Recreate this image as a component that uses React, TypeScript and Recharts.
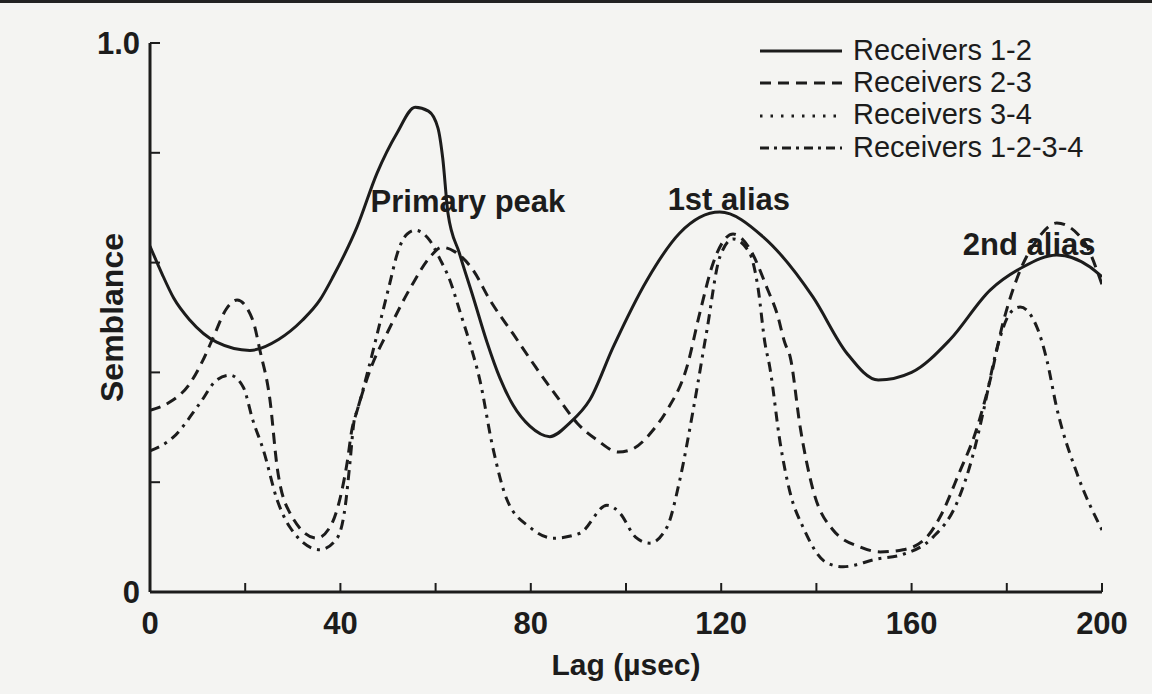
import { LineChart, Line, XAxis, YAxis, ReferenceDot } from "recharts";

// Receivers 1-2 (solid)
const lag12 = [0, 2.5, 5, 8.4, 14, 21, 27, 32, 35.7, 38.5, 43.5, 47.7, 51.9, 55.7, 58.5, 60.5, 61.5, 62.6, 65, 67.9, 70.8, 73.5, 76.3, 79.8, 84, 88.2, 92.4, 97.3, 104.4, 111.3, 119.7, 128.8, 139.3, 146.4, 153, 160, 168, 176.5, 183.4, 190.5, 197.5, 200];
const sem12 = [0.63, 0.58, 0.535, 0.495, 0.455, 0.44, 0.46, 0.495, 0.532, 0.575, 0.665, 0.763, 0.836, 0.883, 0.876, 0.845, 0.79, 0.69, 0.617, 0.537, 0.455, 0.39, 0.34, 0.302, 0.283, 0.308, 0.35, 0.446, 0.568, 0.654, 0.692, 0.647, 0.537, 0.435, 0.386, 0.4, 0.459, 0.55, 0.592, 0.614, 0.592, 0.574];

// Receivers 2-3 (dashed)
const lag23 = [0, 4, 8.4, 11, 13.2, 16, 18.3, 21.6, 23.1, 25.2, 26.7, 29.4, 35, 37.8, 40, 41.4, 42.4, 43.5, 46.5, 50, 55.3, 58.8, 61.3, 64, 67.9, 71.4, 76.3, 81, 86, 89.7, 93.9, 98.4, 101, 105.7, 108.6, 112.8, 115.5, 118.3, 122.5, 126, 129.8, 131.7, 133.4, 134.5, 136.6, 139.3, 143.5, 149.2, 153.4, 158.2, 163.2, 166, 170, 173.6, 176.5, 179.2, 182, 186.3, 190.5, 196, 200];
const sem23 = [0.331, 0.345, 0.38, 0.42, 0.462, 0.515, 0.532, 0.495, 0.44, 0.35, 0.228, 0.144, 0.098, 0.118, 0.173, 0.235, 0.295, 0.33, 0.41, 0.475, 0.563, 0.61, 0.628, 0.62, 0.586, 0.532, 0.47, 0.41, 0.35, 0.308, 0.277, 0.255, 0.259, 0.295, 0.331, 0.41, 0.508, 0.599, 0.652, 0.625, 0.55, 0.508, 0.453, 0.428, 0.3, 0.186, 0.113, 0.082, 0.073, 0.077, 0.1, 0.137, 0.217, 0.295, 0.386, 0.49, 0.568, 0.641, 0.672, 0.641, 0.56];

// Receivers 1-2-3-4 (dash-dot)
const lag1234 = [0, 4.9, 10.5, 14, 16.8, 19.6, 21.6, 23.8, 26.7, 29.4, 35.7, 39.3, 41, 42, 42.9, 43.5, 46, 48.3, 50.4, 51.9, 54, 55.7, 58.8, 61, 63, 65, 67.2, 69.3, 72, 75, 79.8, 84.7, 90.3, 96, 98.7, 102, 105, 108.6, 111.3, 114, 117, 119.7, 122.5, 126, 127.7, 129.2, 130.2, 132.4, 134.5, 137.2, 142.2, 145.6, 152.7, 158, 164.5, 169.5, 173, 175, 178, 180.7, 182.8, 186.3, 188.4, 190.5, 194.7, 200];
const sem1234 = [0.257, 0.282, 0.344, 0.386, 0.395, 0.373, 0.313, 0.259, 0.168, 0.118, 0.077, 0.098, 0.155, 0.235, 0.313, 0.33, 0.41, 0.49, 0.563, 0.615, 0.652, 0.659, 0.64, 0.605, 0.568, 0.514, 0.453, 0.386, 0.264, 0.168, 0.118, 0.098, 0.107, 0.158, 0.144, 0.1, 0.089, 0.118, 0.204, 0.326, 0.477, 0.61, 0.643, 0.617, 0.556, 0.453, 0.41, 0.271, 0.18, 0.118, 0.053, 0.046, 0.06, 0.068, 0.1, 0.162, 0.253, 0.326, 0.446, 0.508, 0.519, 0.483, 0.423, 0.335, 0.217, 0.113];

const xTicks = [0, 20, 40, 60, 80, 100, 120, 140, 160, 180, 200];
const yTicks = [0, 0.2, 0.4, 0.6, 0.8, 1.0];

const legendItems = [
  { label: "Receivers 1-2", dash: "" },
  { label: "Receivers 2-3", dash: "11 7" },
  { label: "Receivers 3-4", dash: "2.5 8" },
  { label: "Receivers 1-2-3-4", dash: "9 5 3 5" },
];

const annotations = [
  { text: "Primary peak", lag: 66.8, value: 0.692 },
  { text: "1st alias", lag: 121.6, value: 0.696 },
  { text: "2nd alias", lag: 184.7, value: 0.614 },
];

const toRows = (lags: number[], vals: number[]) =>
  lags.map((lag, i) => ({ lag, value: vals[i] }));

const ink = "#1c1c1c";
const font = "'Liberation Sans', Arial, sans-serif";

function LegendBox() {
  return (
    <div
      style={{
        position: "absolute",
        left: 755,
        top: 31,
        fontFamily: font,
        fontSize: 29,
        color: ink,
      }}
    >
      {legendItems.map((item) => (
        <div
          key={item.label}
          style={{ display: "flex", alignItems: "center", height: 32.3 }}
        >
          <svg width={92} height={32}>
            <line
              x1={5}
              x2={87}
              y1={17}
              y2={17}
              stroke={ink}
              strokeWidth={3}
              strokeDasharray={item.dash || undefined}
            />
          </svg>
          <span style={{ marginLeft: 6, whiteSpace: "nowrap" }}>{item.label}</span>
        </div>
      ))}
    </div>
  );
}

function AnnotationLabel(props: any) {
  const { viewBox, value } = props;
  const x = viewBox.x + (viewBox.width || 0) / 2;
  const y = viewBox.y + (viewBox.height || 0) / 2;
  return (
    <text
      x={x}
      y={y}
      textAnchor="middle"
      fontFamily={font}
      fontWeight="bold"
      fontSize={31}
      fill={ink}
    >
      {value}
    </text>
  );
}

export default function App() {
  const tickStyle = {
    fill: ink,
    fontSize: 31,
    fontWeight: "bold" as const,
    fontFamily: font,
  };
  return (
    <div
      style={{
        position: "absolute",
        left: 0,
        top: 0,
        width: 1152,
        height: 694,
        background: "#f4f4f2",
        borderTop: "3px solid #222",
        boxSizing: "border-box",
      }}
    >
      <LineChart
        width={1152}
        height={691}
        margin={{ top: 40, right: 50, bottom: 7, left: 90 }}
      >
        <XAxis
          dataKey="lag"
          type="number"
          domain={[0, 200]}
          ticks={xTicks}
          allowDataOverflow
          height={95}
          axisLine={{ stroke: ink, strokeWidth: 3 }}
          tickLine={{ stroke: ink, strokeWidth: 2 }}
          tickSize={-9}
          tickMargin={29}
          tick={tickStyle}
          tickFormatter={(v: number) => (v % 40 === 0 ? String(v) : "")}
          label={{
            value: "Lag (\u00b5sec)",
            position: "insideBottom",
            offset: 12,
            style: { ...tickStyle, fontSize: 30 },
          }}
        />
        <YAxis
          type="number"
          domain={[0, 1]}
          ticks={yTicks}
          width={60}
          axisLine={{ stroke: ink, strokeWidth: 3 }}
          tickLine={{ stroke: ink, strokeWidth: 2 }}
          tickSize={-10}
          tickMargin={20}
          tick={tickStyle}
          tickFormatter={(v: number) =>
            v === 0 ? "0" : v === 1 ? "1.0" : ""
          }
          label={{
            value: "Semblance",
            angle: -90,
            position: "insideLeft",
            offset: 22,
            style: { ...tickStyle, fontSize: 32, textAnchor: "middle" },
          }}
        />
        <Line
          data={toRows(lag12, sem12)}
          dataKey="value"
          name="Receivers 1-2"
          type="monotone"
          stroke={ink}
          strokeWidth={3}
          dot={false}
          isAnimationActive={false}
        />
        <Line
          data={toRows(lag23, sem23)}
          dataKey="value"
          name="Receivers 2-3"
          type="monotone"
          stroke={ink}
          strokeWidth={3}
          strokeDasharray="11 7"
          dot={false}
          isAnimationActive={false}
        />
        <Line
          data={toRows(lag1234, sem1234)}
          dataKey="value"
          name="Receivers 1-2-3-4"
          type="monotone"
          stroke={ink}
          strokeWidth={3}
          strokeDasharray="10 6 3 6"
          dot={false}
          isAnimationActive={false}
        />
        {annotations.map((a) => (
          <ReferenceDot
            key={a.text}
            x={a.lag}
            y={a.value}
            r={0}
            fill="none"
            stroke="none"
            label={<AnnotationLabel value={a.text} />}
          />
        ))}
      </LineChart>
      <LegendBox />
    </div>
  );
}
